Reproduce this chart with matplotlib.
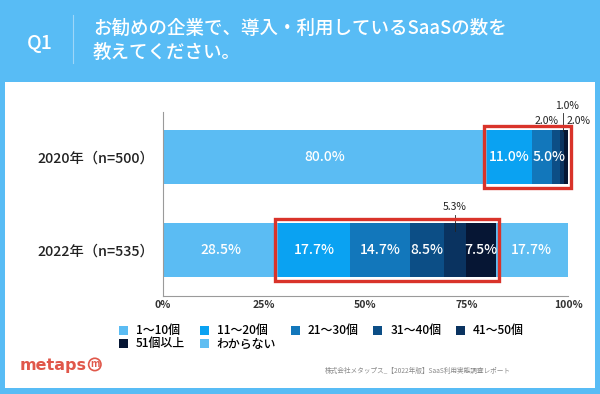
import matplotlib.pyplot as plt
from matplotlib.patches import Rectangle, Patch

plt.rcParams['font.family'] = ['Noto Sans CJK JP', 'DejaVu Sans']

years = ['2020年（n=500）', '2022年（n=535）']
groups = ['1～10個', '11～20個', '21～30個', '31～40個', '41～50個', '51個以上', 'わからない']
v2020 = [80.0, 11.0, 5.0, 2.0, 1.0, 2.0, 0.0]
v2022 = [28.5, 17.7, 14.7, 8.5, 5.3, 7.5, 17.7]
colors = ['#5BBCF3', '#0AA2F2', '#1277BB', '#0C4E86', '#0A3360', '#061634', '#5FBEF2']
ticks = [0, 25, 50, 75, 100]
tick_labels = ['0%', '25%', '50%', '75%', '100%']

bg = '#58BCF5'
red = '#D9332A'
ink = '#222222'

fig = plt.figure(figsize=(6, 3.94), dpi=100)
fig.patch.set_facecolor(bg)

# white panel
fig.patches.append(Rectangle((0.009, 0.015), 0.982, 0.777, transform=fig.transFigure,
                             facecolor='white', edgecolor='none', zorder=-1))

# header
fig.text(0.045, 0.889, 'Q1', color='white', fontsize=14, ha='left', va='center', fontweight='medium')
fig.add_artist(plt.Line2D([0.122, 0.122], [0.84, 0.962], color='#9ED6F8', lw=0.8))
fig.text(0.155, 0.929, 'お勧めの企業で、導入・利用しているSaaSの数を', color='white',
         fontsize=13.3, ha='left', va='center', fontweight='medium')
fig.text(0.155, 0.868, '教えてください。', color='white', fontsize=13.3, ha='left', va='center',
         fontweight='medium')

ax = fig.add_axes([0.2717, 0.2487, 0.675, 0.467])
ax.set_zorder(2)
ax.patch.set_alpha(0)

data = [v2020, v2022]
bar_h = 0.59
for i, vals in enumerate(data):
    left = 0
    for j, v in enumerate(vals):
        if v > 0:
            ax.barh(i, v, left=left, height=bar_h, color=colors[j], edgecolor='none')
        left += v

# value labels inside bars (small segments nudged right like the original)
inside = {0: [0, 1, 2], 1: [0, 1, 2, 3, 5, 6]}
nudge = {(0, 2): 1.8}
for i, vals in enumerate(data):
    starts = [sum(vals[:k]) for k in range(len(vals))]
    for j in inside[i]:
        ax.text(starts[j] + vals[j] / 2 + nudge.get((i, j), 0), i, f'{vals[j]:.1f}%',
                color='white', fontsize=10, ha='center', va='center', zorder=6,
                fontweight='medium')

# small segment labels above
ax.text(94.6, -0.39, f'{v2020[3]:.1f}%', fontsize=7.5, ha='center', va='center', color=ink)
ax.text(99.8, -0.55, f'{v2020[4]:.1f}%', fontsize=7.5, ha='center', va='center', color=ink, clip_on=False)
ax.text(102.7, -0.39, f'{v2020[5]:.1f}%', fontsize=7.5, ha='center', va='center', color=ink)
ax.plot([98.7, 98.7], [-0.47, -0.28], color=ink, lw=0.6, clip_on=False)

s22 = [sum(v2022[:k]) for k in range(len(v2022))]
xm = s22[4] + v2022[4] / 2
ax.text(xm, 0.54, f'{v2022[4]:.1f}%', fontsize=7.5, ha='center', va='center', color=ink)
ax.plot([xm, xm], [0.62, 0.80], color=ink, lw=0.6)

# red highlight boxes around 11個以上
for i, vals in enumerate(data):
    starts = [sum(vals[:k]) for k in range(len(vals))]
    x0 = starts[1] - 0.8
    x1 = min(starts[5] + vals[5], 100) + 0.8
    ax.add_patch(Rectangle((x0, i - 0.33), x1 - x0, 0.66, fill=False, edgecolor=red,
                           lw=2.4, zorder=7, clip_on=False))

ax.set_xlim(0, 100)
ax.set_ylim(1.495, -0.484)
ax.set_yticks([0, 1])
ax.set_yticklabels(years, fontsize=10.3, color=ink, fontweight='medium')
ax.set_xticks(ticks)
ax.set_xticklabels(tick_labels, fontsize=7.5, color='#333333', fontweight='bold')
ax.tick_params(length=0, pad=3)
ax.tick_params(axis='y', pad=6)
for side in ['top', 'right']:
    ax.spines[side].set_visible(False)
for side in ['left', 'bottom']:
    ax.spines[side].set_color('#9A9A9A')
    ax.spines[side].set_linewidth(0.8)

# legend (order so that the two-row layout reads left to right)
order = [0, 5, 1, 6, 2, 3, 4]
handles = [Patch(facecolor=colors[k], edgecolor='none') for k in order]
labels = [groups[k] for k in order]
fig.legend(handles, labels, loc='upper left', bbox_to_anchor=(0.188, 0.192), ncol=5,
           frameon=False, prop={'size': 8.6, 'weight': 'medium'}, handlelength=0.75,
           handleheight=0.75, handletextpad=0.7, columnspacing=1.2, labelspacing=0.0,
           borderpad=0)

# footer
fig.text(0.033, 0.072, 'metaps', color='#E0574A', fontsize=11.5, fontweight='bold',
         ha='left', va='center', family='DejaVu Sans')
fig.text(0.158, 0.075, 'm', color='#E0574A', fontsize=7, fontweight='bold', ha='center', va='center',
         bbox=dict(boxstyle='circle,pad=0.12', facecolor='white', edgecolor='#E0574A', lw=1.2))
fig.text(0.852, 0.058, '株式会社メタップス_【2022年版】SaaS利用実態調査レポート', color='#8A8A8A',
         fontsize=4.8, ha='right', va='center')

fig.savefig('out.png', dpi=100, facecolor=fig.get_facecolor())
